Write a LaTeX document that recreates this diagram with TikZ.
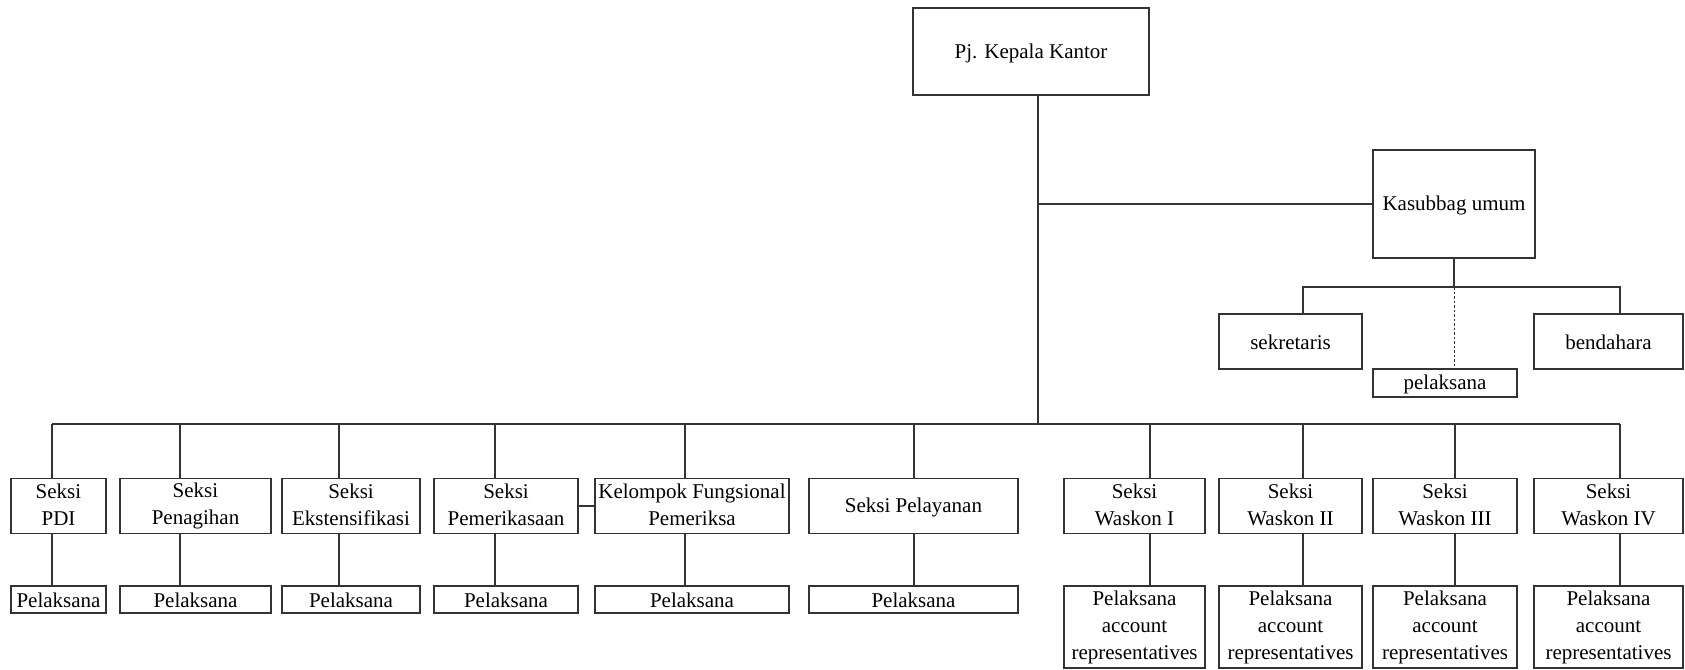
\documentclass[tikz,border=0pt]{standalone}
\usepackage{fontspec}
\setmainfont{Liberation Serif}
\usepackage{tikz}
\usetikzlibrary{positioning,calc}

\begin{document}
\begin{tikzpicture}[
    x=1pt, y=-1pt,
    unitbox/.style={draw=black!80, line width=1.2pt, inner sep=0pt, align=center,
        font=\fontsize{21}{27}\selectfont,
        execute at begin node={\rule{0pt}{18pt}},
        execute at end node={\rule[-3pt]{0pt}{3pt}}},
    seksi/.style={unitbox, minimum height=55pt},
    pel/.style={unitbox, minimum height=27pt},
    akun/.style={unitbox, minimum height=82pt},
    link/.style={draw=black!80, line width=1.2pt}
]
    \useasboundingbox (0,0) rectangle (1685,669);

    % pimpinan dan subbagian umum
    \node[unitbox, minimum width=236pt, minimum height=87pt] (pj) at (1031,51.5) {Pj. Kepala Kantor};
    \node[unitbox, minimum width=162pt, minimum height=108pt] (kasubbag) at (1454,204) {Kasubbag umum};
    \node[seksi, minimum width=143pt] (sekretaris) at (1290.5,341.5) {sekretaris};
    \node[seksi, minimum width=149pt] (bendahara) at (1608.5,341.5) {bendahara};
    \node[unitbox, minimum width=144pt, minimum height=28pt] (pelaksana) at (1445,383) {pelaksana};

    % seksi-seksi
    \node[seksi, minimum width=95pt] (pdi) at (58.5,506) {Seksi\\PDI};
    \node[seksi, minimum width=151pt] (penagihan) at (195.5,506) {Seksi\\Penagihan};
    \node[seksi, minimum width=138pt] (ekstensifikasi) at (351,506) {Seksi\\Ekstensifikasi};
    \node[seksi, minimum width=144pt] (pemeriksaan) at (506,506) {Seksi\\Pemerikasaan};
    \node[seksi, minimum width=194pt] (kelompok) at (692,506) {Kelompok Fungsional\\Pemeriksa};
    \node[seksi, minimum width=209pt] (pelayanan) at (913.5,506) {Seksi Pelayanan};
    \node[seksi, minimum width=141pt] (waskonI) at (1134.5,506) {Seksi\\Waskon I};
    \node[seksi, minimum width=143pt] (waskonII) at (1290.5,506) {Seksi\\Waskon II};
    \node[seksi, minimum width=144pt] (waskonIII) at (1445,506) {Seksi\\Waskon III};
    \node[seksi, minimum width=149pt] (waskonIV) at (1608.5,506) {Seksi\\Waskon IV};

    % pelaksana
    \node[pel, minimum width=95pt] (pdi-p) at (58.5,599.5) {Pelaksana};
    \node[pel, minimum width=151pt] (penagihan-p) at (195.5,599.5) {Pelaksana};
    \node[pel, minimum width=138pt] (ekstensifikasi-p) at (351,599.5) {Pelaksana};
    \node[pel, minimum width=144pt] (pemeriksaan-p) at (506,599.5) {Pelaksana};
    \node[pel, minimum width=194pt] (kelompok-p) at (692,599.5) {Pelaksana};
    \node[pel, minimum width=209pt] (pelayanan-p) at (913.5,599.5) {Pelaksana};
    \node[akun, minimum width=141pt] (waskonI-p) at (1134.5,627) {Pelaksana\\account\\representatives};
    \node[akun, minimum width=143pt] (waskonII-p) at (1290.5,627) {Pelaksana\\account\\representatives};
    \node[akun, minimum width=144pt] (waskonIII-p) at (1445,627) {Pelaksana\\account\\representatives};
    \node[akun, minimum width=149pt] (waskonIV-p) at (1608.5,627) {Pelaksana\\account\\representatives};

    % garis
    \coordinate (trunk) at (1038,424);
    \coordinate (sek-top) at (1303,287);
    \coordinate (ben-top) at (1620,287);
    \draw[link] (pj.south -| trunk) -- (trunk);
    \draw[link] (kasubbag.west) -- (kasubbag.west -| trunk);
    \draw[link] (kasubbag.south) -- (kasubbag.south |- sek-top);
    \draw[link] (sekretaris.north -| sek-top) -- (sek-top) -- (ben-top) -- (bendahara.north -| ben-top);
    \draw[link, line width=1pt, dash pattern=on 2.5pt off 2pt] (kasubbag.south |- sek-top) -- (pelaksana.north -| kasubbag.south);
    \draw[link] (pemeriksaan.east) -- (kelompok.west);
    \foreach \n/\x in {pdi/52, penagihan/180, ekstensifikasi/339, pemeriksaan/495, kelompok/685,
        pelayanan/914, waskonI/1150, waskonII/1303, waskonIII/1455, waskonIV/1620} {
        \coordinate (\n-top) at (\x,424);
        \draw[link] (\n-top) -- (\n.north -| \n-top);
        \draw[link] (\n.south -| \n-top) -- (\n-p.north -| \n-top);
    }
    \draw[link] (pdi-top) -- (waskonIV-top);
\end{tikzpicture}
\end{document}
